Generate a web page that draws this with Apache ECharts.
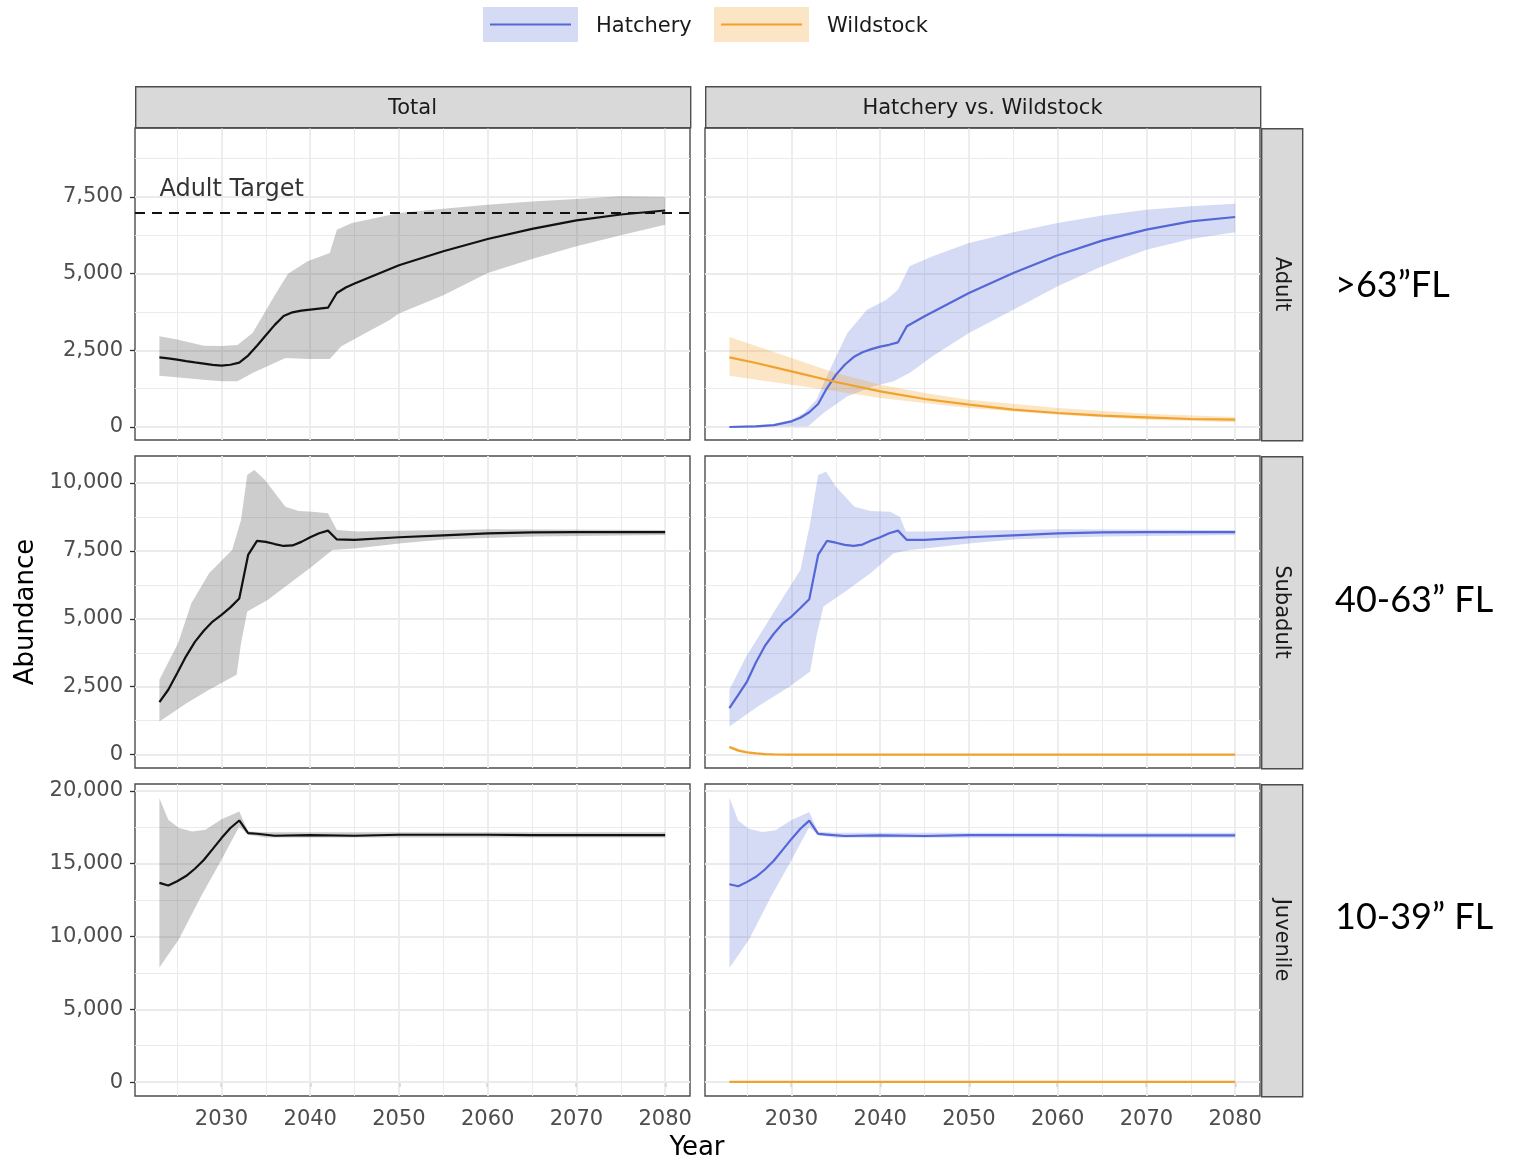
<!DOCTYPE html>
<html>
<head>
<meta charset="utf-8">
<script src="https://cdn.jsdelivr.net/npm/echarts@6/dist/echarts.min.js"></script>
<style>
html,body{margin:0;padding:0;background:#fff;}
#chart{width:1514px;height:1161px;}
</style>
</head>
<body>
<div id="chart"></div>
<script>
// ---------------- DATA ----------------
const columns = ['Total', 'Hatchery vs. Wildstock'];
const rows = ['Adult', 'Subadult', 'Juvenile'];
const sizeLabels = ['>63\u201dFL', '40-63\u201d FL', '10-39\u201d FL'];
const seriesNames = ['Hatchery', 'Wildstock'];
const xTicks = [2030, 2040, 2050, 2060, 2070, 2080];
const xMinorTicks = [2025, 2035, 2045, 2055, 2065, 2075];
const yTicksAdult = [0, 2500, 5000, 7500];
const yMinorAdult = [1250, 3750, 6250, 8750];
const yTicksSub = [0, 2500, 5000, 7500, 10000];
const yMinorSub = [1250, 3750, 6250, 8750];
const yTicksJuv = [0, 5000, 10000, 15000, 20000];
const yMinorJuv = [2500, 7500, 12500, 17500];
const adultTarget = 7000;
const adultTargetLabel = 'Adult Target';
const adultTargetLabelPos = [2023, 7750];

// Adult - Total
const adultTotalMean = [[2023,2270],[2024,2235],[2025,2196],[2026,2150],[2027,2105],[2028,2065],[2029,2025],[2030,2000],[2031,2030],[2032,2100],[2033,2330],[2034,2650],[2035,2990],[2036,3330],[2037,3620],[2038,3740],[2039,3794],[2040,3830],[2041,3860],[2042,3890],[2043,4370],[2044,4550],[2045,4680],[2050,5272],[2055,5730],[2060,6131],[2065,6460],[2070,6740],[2075,6930],[2080,7060]];
const adultTotalHi = [[2023,2957],[2025,2850],[2028,2652],[2030,2640],[2031.8,2674],[2033.5,3065],[2035,3800],[2036,4300],[2037.5,5000],[2039.7,5402],[2042.2,5674],[2043,6435],[2044.7,6652],[2050,6978],[2055,7120],[2060,7250],[2065,7350],[2070,7435],[2075,7522],[2080,7500]];
const adultTotalLo = [[2023,1674],[2028,1543],[2030,1489],[2031.8,1489],[2033.5,1761],[2037.2,2250],[2039.7,2217],[2042.2,2217],[2043.5,2630],[2049,3500],[2050,3700],[2055,4300],[2060,5022],[2065,5480],[2070,5891],[2075,6250],[2080,6598]];
// Adult - Hatchery
const adultHatchMean = [[2023,0],[2026,22],[2028,60],[2030,185],[2031,300],[2032,480],[2033,750],[2034,1270],[2035,1700],[2036,2030],[2037,2280],[2038,2435],[2039,2540],[2040,2620],[2041,2680],[2042,2761],[2043,3283],[2045,3609],[2050,4370],[2055,5022],[2060,5598],[2065,6076],[2070,6435],[2075,6707],[2080,6848]];
const adultHatchHi = [[2023,30],[2028,80],[2030,240],[2031.4,456],[2032.8,891],[2034.5,1978],[2036.3,3065],[2038.5,3826],[2040.7,4152],[2042,4478],[2043.3,5239],[2045.9,5565],[2050,6000],[2055,6350],[2060,6652],[2065,6900],[2070,7087],[2075,7200],[2080,7283]];
const adultHatchLo = [[2023,0],[2031.9,22],[2033.6,456],[2036.3,1000],[2039.3,1326],[2041.5,1489],[2043.3,1761],[2045.9,2304],[2050,3065],[2055,3826],[2060,4587],[2065,5239],[2070,5783],[2075,6131],[2080,6348]];
// Adult - Wildstock
const adultWildMean = [[2023,2272],[2026,2087],[2030,1815],[2035,1467],[2040,1163],[2045,913],[2050,728],[2055,565],[2060,456],[2065,370],[2070,315],[2075,261],[2080,239]];
const adultWildHi = [[2023,2935],[2030,2250],[2035,1761],[2040,1380],[2045,1109],[2050,891],[2060,620],[2070,435],[2080,326]];
const adultWildLo = [[2023,1674],[2030,1380],[2035,1163],[2040,946],[2045,783],[2050,620],[2060,402],[2070,239],[2080,152]];

// Subadult - Total
const subTotalMean = [[2023,1936],[2024,2389],[2025,3000],[2026,3620],[2027,4150],[2028,4560],[2029,4900],[2030,5145],[2031,5420],[2032,5750],[2033,7350],[2034,7870],[2035,7830],[2036,7750],[2037,7680],[2038,7700],[2039,7830],[2040,8000],[2041,8150],[2042,8244],[2043,7920],[2045,7901],[2050,8000],[2055,8073],[2060,8146],[2065,8183],[2070,8190],[2075,8190],[2080,8190]];
const subTotalHi = [[2023,2756],[2025.1,4104],[2026.6,5574],[2028.6,6676],[2031.2,7534],[2032.2,8636],[2032.9,10290],[2033.7,10474],[2034.9,10106],[2037.2,9126],[2038.7,8967],[2040.2,8943],[2042,8881],[2043,8269],[2045.3,8208],[2055.3,8269],[2060.4,8293],[2080,8269]];
const subTotalLo = [[2023,1225],[2026.1,1899],[2028.6,2389],[2031.7,2940],[2032.2,4104],[2032.9,5268],[2035.2,5696],[2037.7,6309],[2040.2,6921],[2042.5,7534],[2045.3,7595],[2050.3,7779],[2055.3,7926],[2065.4,8024],[2080,8085]];
// Subadult - Hatchery
const subHatchMean = [[2023,1715],[2024,2200],[2025,2700],[2026,3400],[2027,4000],[2028,4450],[2029,4830],[2030,5084],[2031,5400],[2032,5720],[2033,7350],[2034,7865],[2035,7800],[2036,7720],[2037,7681],[2038,7730],[2039,7880],[2040,8000],[2041,8150],[2042,8244],[2043,7901],[2045,7901],[2050,8000],[2055,8073],[2060,8146],[2065,8183],[2070,8190],[2075,8190],[2080,8190]];
const subHatchHi = [[2023,2389],[2024.9,3614],[2028.4,5451],[2031,6799],[2032.1,8514],[2033,10290],[2033.9,10413],[2035,9861],[2037.1,9126],[2038.9,8967],[2041.1,8943],[2042.2,8759],[2042.9,8208],[2045.3,8208],[2055.3,8269],[2060.4,8293],[2080,8269]];
const subHatchLo = [[2023,1041],[2026.2,1776],[2029.7,2487],[2032.1,3063],[2032.8,4349],[2033.6,5451],[2036.3,6064],[2038.9,6676],[2041.5,7411],[2043.3,7534],[2045.3,7595],[2050.3,7779],[2055.3,7926],[2065.4,8024],[2080,8085]];
// Subadult - Wildstock
const subWildMean = [[2023,280],[2024,150],[2025,86],[2026,45],[2027,20],[2028,10],[2030,3],[2040,0],[2080,0]];
const subWildHi = [[2023,340],[2025,115],[2028,25],[2080,8]];
const subWildLo = [[2023,220],[2025,60],[2028,0],[2080,0]];

// Juvenile - Total
const juvTotalMean = [[2023,13680],[2024,13498],[2025,13794],[2026,14150],[2027,14650],[2028,15250],[2029,16000],[2030,16758],[2031,17450],[2032,17966],[2033,17100],[2034,17054],[2036,16918],[2040,16963],[2045,16918],[2050,16986],[2055,16986],[2060,16986],[2065,16963],[2070,16963],[2075,16963],[2080,16963]];
const juvTotalHi = [[2023,19494],[2024,18012],[2025.2,17442],[2026.7,17214],[2028.2,17328],[2030,18058],[2032,18582],[2033,17214],[2035,17150],[2080,17150]];
const juvTotalLo = [[2023,7866],[2025.2,9804],[2027.7,12768],[2030,15276],[2032,17556],[2033,16986],[2035,16800],[2080,16800]];
// Juvenile - Hatchery
const juvHatchMean = [[2023,13591],[2024,13450],[2025,13750],[2026,14100],[2027,14600],[2028,15200],[2029,15950],[2030,16700],[2031,17400],[2032,17954],[2033,17050],[2034,17000],[2036,16900],[2040,16940],[2045,16900],[2050,16960],[2055,16960],[2060,16960],[2065,16940],[2070,16940],[2075,16940],[2080,16940]];
const juvHatchHi = [[2023,19545],[2024,17950],[2025.2,17400],[2026.7,17180],[2028.2,17300],[2030,18000],[2032,18550],[2033,17200],[2035,17120],[2080,17120]];
const juvHatchLo = [[2023,7840],[2025.2,9780],[2027.7,12740],[2030,15250],[2032,17520],[2033,16960],[2035,16780],[2080,16780]];
// Juvenile - Wildstock
const juvWildMean = [[2023,20],[2080,20]];
const juvWildHi = [[2023,40],[2080,40]];
const juvWildLo = [[2023,0],[2080,0]];

// ---------------- STYLE ----------------
const FONT = "'DejaVu Sans', sans-serif";
const COL_H = '#5567d6';
const COL_W = '#f0a22c';
const FILL_H = 'rgba(85,103,214,0.24)';
const FILL_W = 'rgba(240,162,44,0.28)';
const FILL_T = 'rgba(90,90,90,0.3)';
const GRID_COL = '#ebebeb';
const yRanges = [[-424, 9750], [-490, 10990], [-950, 20470]];
const yTicksAll = [yTicksAdult, yTicksSub, yTicksJuv];
const yMinorAll = [yMinorAdult, yMinorSub, yMinorJuv];
const X_MIN = 2020.25, X_MAX = 2082.8;
const gridLefts = [135, 705];
const gridTops = [128, 456, 784];
const GW = 555, GH = 312;

const chart = echarts.init(document.getElementById('chart'), null, {renderer: 'canvas'});

const grids = [], xAxes = [], yAxes = [], series = [];
const fmt = v => Number(v).toLocaleString('en-US');

function ribbon(i, hi, lo, color) {
  const poly = hi.concat(lo.slice().reverse());
  return {
    type: 'custom', xAxisIndex: i, yAxisIndex: i, z: 2, silent: true,
    data: [[hi[0][0], hi[0][1]]],
    renderItem: function (params, api) {
      const pts = poly.map(p => api.coord(p));
      return {type: 'polygon', shape: {points: pts}, style: {fill: color}};
    }
  };
}
function line(i, data, color, extra) {
  return Object.assign({
    type: 'line', xAxisIndex: i, yAxisIndex: i, z: 3, data: data,
    showSymbol: false, symbol: 'none', silent: true,
    lineStyle: {color: color, width: 2.2}, itemStyle: {color: color}
  }, extra || {});
}
function gridLineSeries(i, r) {
  const d = [];
  xMinorTicks.forEach(v => d.push({xAxis: v, lineStyle: {width: 1, color: GRID_COL, type: 'solid'}}));
  xTicks.forEach(v => d.push({xAxis: v, lineStyle: {width: 1.8, color: GRID_COL, type: 'solid'}}));
  yMinorAll[r].forEach(v => d.push({yAxis: v, lineStyle: {width: 1, color: GRID_COL, type: 'solid'}}));
  yTicksAll[r].forEach(v => d.push({yAxis: v, lineStyle: {width: 1.8, color: GRID_COL, type: 'solid'}}));
  return {
    type: 'line', xAxisIndex: i, yAxisIndex: i, z: 1, silent: true,
    data: [[2050, 0]], symbol: 'none', lineStyle: {opacity: 0},
    markLine: {z: 1, silent: true, symbol: ['none', 'none'], label: {show: false}, animation: false, data: d}
  };
}

const panelData = [
  [{mean: adultTotalMean, hi: adultTotalHi, lo: adultTotalLo},
   {h: {mean: adultHatchMean, hi: adultHatchHi, lo: adultHatchLo}, w: {mean: adultWildMean, hi: adultWildHi, lo: adultWildLo}}],
  [{mean: subTotalMean, hi: subTotalHi, lo: subTotalLo},
   {h: {mean: subHatchMean, hi: subHatchHi, lo: subHatchLo}, w: {mean: subWildMean, hi: subWildHi, lo: subWildLo}}],
  [{mean: juvTotalMean, hi: juvTotalHi, lo: juvTotalLo},
   {h: {mean: juvHatchMean, hi: juvHatchHi, lo: juvHatchLo}, w: {mean: juvWildMean, hi: juvWildHi, lo: juvWildLo}}]
];

for (let r = 0; r < 3; r++) {
  for (let c = 0; c < 2; c++) {
    const i = r * 2 + c;
    grids.push({left: gridLefts[c], top: gridTops[r], width: GW, height: GH,
      show: true, borderColor: '#4d4d4d', borderWidth: 1.4, backgroundColor: 'transparent', containLabel: false});
    const bottom = r === 2;
    xAxes.push({
      type: 'value', gridIndex: i, min: X_MIN, max: X_MAX,
      axisLine: {show: false},
      splitLine: {show: false},
      axisTick: {show: bottom, customValues: xTicks, length: 5, lineStyle: {color: '#333', width: 1.3}},
      axisLabel: {show: bottom, customValues: xTicks, color: '#4d4d4d', fontSize: 21, fontFamily: FONT, margin: 13,
        formatter: v => String(v)}
    });
    const left = c === 0;
    yAxes.push({
      type: 'value', gridIndex: i, min: yRanges[r][0], max: yRanges[r][1],
      axisLine: {show: false},
      splitLine: {show: false},
      axisTick: {show: left, customValues: yTicksAll[r], length: 5, lineStyle: {color: '#333', width: 1.3}},
      axisLabel: {show: left, customValues: yTicksAll[r], color: '#4d4d4d', fontSize: 21, fontFamily: FONT, margin: 12, formatter: fmt}
    });
    series.push(gridLineSeries(i, r));
    const pd = panelData[r][c];
    if (c === 0) {
      series.push(ribbon(i, pd.hi, pd.lo, FILL_T));
      const extra = {};
      if (r === 0) {
        extra.markLine = {z: 4, silent: true, symbol: ['none', 'none'], label: {show: false}, animation: false,
          data: [{yAxis: adultTarget, lineStyle: {color: '#111', width: 2, type: [10, 7]}}]};
      }
      series.push(line(i, pd.mean, '#111', extra));
      if (r === 0) {
        series.push({
          type: 'scatter', xAxisIndex: i, yAxisIndex: i, z: 5, silent: true,
          data: [adultTargetLabelPos], symbolSize: 0.01,
          itemStyle: {color: '#000'},
          label: {show: true, position: 'right', distance: 0, formatter: adultTargetLabel,
            fontSize: 24, fontFamily: FONT, color: '#000', textBorderWidth: 0}
        });
      }
    } else {
      series.push(ribbon(i, pd.h.hi, pd.h.lo, FILL_H));
      series.push(ribbon(i, pd.w.hi, pd.w.lo, FILL_W));
      series.push(line(i, pd.h.mean, COL_H));
      series.push(line(i, pd.w.mean, COL_W));
    }
  }
}

// ---------------- GRAPHIC (strips, legend, titles) ----------------
const graphic = [];
const STRIP_FILL = '#d9d9d9', STRIP_STROKE = '#4d4d4d';
columns.forEach((name, c) => {
  graphic.push({type: 'rect', left: gridLefts[c], top: 86, z: 10,
    shape: {width: GW, height: 41}, style: {fill: STRIP_FILL, stroke: STRIP_STROKE, lineWidth: 1.4}});
  graphic.push({type: 'text', x: gridLefts[c] + GW / 2, y: 109, z: 11,
    style: {text: name, fill: '#1a1a1a', font: '21px ' + FONT, align: 'center', verticalAlign: 'middle'}});
});
rows.forEach((name, r) => {
  graphic.push({type: 'rect', left: 1261, top: gridTops[r], z: 10,
    shape: {width: 41, height: GH}, style: {fill: STRIP_FILL, stroke: STRIP_STROKE, lineWidth: 1.4}});
  graphic.push({type: 'text', x: 1281, y: gridTops[r] + GH / 2, rotation: -Math.PI / 2, z: 11,
    style: {text: name, fill: '#1a1a1a', font: '21px ' + FONT, align: 'center', verticalAlign: 'middle'}});
  graphic.push({type: 'text', x: 1335, y: [285, 600, 917][r], z: 11,
    style: {text: sizeLabels[r], fill: '#000', font: '36px Lato, "Open Sans", sans-serif', align: 'left', verticalAlign: 'middle'}});
});
// legend
const legendItems = [
  {x: 483, name: seriesNames[0], fill: FILL_H, col: COL_H, tx: 596},
  {x: 714, name: seriesNames[1], fill: FILL_W, col: COL_W, tx: 827}
];
legendItems.forEach(it => {
  graphic.push({type: 'rect', left: it.x, top: 7, z: 10, shape: {width: 95, height: 35}, style: {fill: it.fill}});
  graphic.push({type: 'line', z: 11, shape: {x1: it.x + 7, y1: 24.5, x2: it.x + 88, y2: 24.5}, style: {stroke: it.col, lineWidth: 2.2}});
  graphic.push({type: 'text', x: it.tx, y: 27, z: 11,
    style: {text: it.name, fill: '#1a1a1a', font: '21px ' + FONT, align: 'left', verticalAlign: 'middle'}});
});
// axis titles
graphic.push({type: 'text', x: 697, y: 1148, z: 11,
  style: {text: 'Year', fill: '#000', font: '26px ' + FONT, align: 'center', verticalAlign: 'middle'}});
graphic.push({type: 'text', x: 26, y: 612, rotation: Math.PI / 2, z: 11,
  style: {text: 'Abundance', fill: '#000', font: '26px ' + FONT, align: 'center', verticalAlign: 'middle'}});

chart.setOption({
  animation: false,
  backgroundColor: '#fff',
  grid: grids,
  xAxis: xAxes,
  yAxis: yAxes,
  series: series,
  graphic: graphic
});
</script>
</body>
</html>
